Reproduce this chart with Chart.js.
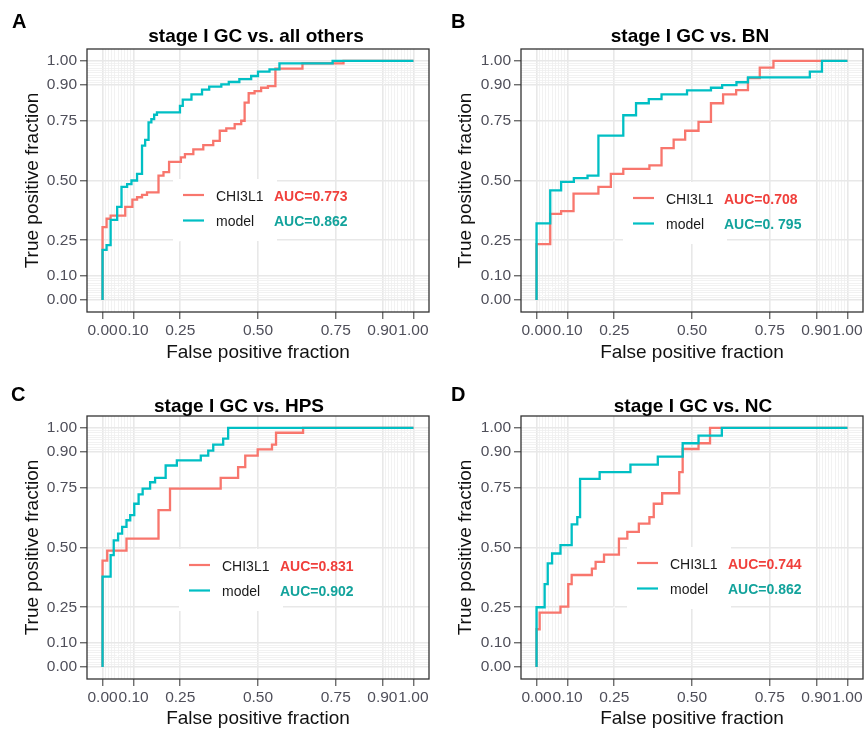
<!DOCTYPE html>
<html lang="en">
<head>
<meta charset="UTF-8">
<title>ROC curves - stage I GC</title>
<script src="https://cdn.jsdelivr.net/npm/chart.js@4.4.1/dist/chart.umd.min.js"></script>
<style>
  body { margin: 0; background: #fff; font-family: "Liberation Sans", Arial, sans-serif; }
  .wrap { position: relative; width: 865px; height: 730px; }
  canvas { position: absolute; }
  .letter { position: absolute; font-weight: bold; font-size: 20px; line-height: 24px; color: #000; }
  .title { position: absolute; width: 400px; text-align: center; font-weight: bold; font-size: 19px; line-height: 22px; color: #000; }
</style>
</head>
<body>
<div class="wrap" id="wrap"></div>
<script>
// axis breaks
const majorBreaks = [0, 0.1, 0.25, 0.5, 0.75, 0.9, 1];
const tickLabels = ['0.00', '0.10', '0.25', '0.50', '0.75', '0.90', '1.00'];
const minorBreaks = [0.01, 0.02, 0.03, 0.04, 0.05, 0.06, 0.07, 0.08, 0.09,
                     0.91, 0.92, 0.93, 0.94, 0.95, 0.96, 0.97, 0.98, 0.99];

const groups = ['CHI3L1', 'model'];
const letters = ['A', 'B', 'C', 'D'];
const titles = ['stage I GC vs. all others', 'stage I GC vs. BN', 'stage I GC vs. HPS', 'stage I GC vs. NC'];
const aucLabels = [
  ['AUC=0.773', 'AUC=0.862'],
  ['AUC=0.708', 'AUC=0. 795'],
  ['AUC=0.831', 'AUC=0.902'],
  ['AUC=0.744', 'AUC=0.862']
];

// ROC points [fpr, tpr]
const rocA_chi = [[0,0],[0,0.305],[0.013,0.34],[0.026,0.353],[0.073,0.39],[0.096,0.42],[0.111,0.43],[0.127,0.44],[0.143,0.45],[0.18,0.52],[0.196,0.535],[0.214,0.578],[0.252,0.597],[0.265,0.61],[0.292,0.63],[0.324,0.648],[0.356,0.666],[0.377,0.708],[0.398,0.718],[0.425,0.736],[0.446,0.75],[0.457,0.826],[0.47,0.865],[0.489,0.874],[0.51,0.888],[0.532,0.895],[0.556,0.968],[0.643,0.99],[0.775,1],[1,1]];
const rocA_model = [[0,0],[0,0.21],[0.013,0.23],[0.026,0.335],[0.047,0.39],[0.061,0.473],[0.079,0.485],[0.093,0.5],[0.111,0.528],[0.127,0.646],[0.137,0.67],[0.148,0.743],[0.157,0.757],[0.166,0.775],[0.175,0.785],[0.249,0.812],[0.258,0.838],[0.286,0.86],[0.32,0.88],[0.343,0.893],[0.382,0.902],[0.406,0.912],[0.44,0.924],[0.478,0.937],[0.5,0.955],[0.537,0.965],[0.569,0.99],[0.74,1],[1,1]];

const rocB_chi = [[0,0],[0,0.234],[0.044,0.36],[0.079,0.372],[0.119,0.445],[0.199,0.473],[0.239,0.528],[0.279,0.549],[0.363,0.563],[0.402,0.635],[0.441,0.671],[0.478,0.708],[0.521,0.745],[0.561,0.823],[0.6,0.86],[0.642,0.878],[0.68,0.928],[0.718,0.972],[0.762,1],[1,1]];
const rocB_model = [[0,0],[0,0.321],[0.044,0.459],[0.079,0.494],[0.12,0.51],[0.164,0.52],[0.199,0.688],[0.279,0.773],[0.32,0.823],[0.361,0.84],[0.402,0.86],[0.484,0.877],[0.561,0.888],[0.597,0.899],[0.643,0.911],[0.68,0.931],[0.879,0.955],[0.918,1],[1,1]];

const rocC_chi = [[0,0],[0,0.445],[0.015,0.487],[0.077,0.537],[0.18,0.656],[0.217,0.746],[0.38,0.791],[0.436,0.836],[0.459,0.884],[0.499,0.91],[0.545,0.93],[0.558,0.98],[0.645,1],[1,1]];
const rocC_model = [[0,0],[0,0.378],[0.026,0.468],[0.036,0.53],[0.05,0.558],[0.063,0.586],[0.077,0.614],[0.089,0.635],[0.102,0.683],[0.116,0.722],[0.129,0.746],[0.153,0.773],[0.169,0.791],[0.203,0.843],[0.239,0.864],[0.316,0.884],[0.34,0.905],[0.356,0.93],[0.388,0.955],[0.404,1],[1,1]];

const rocD_chi = [[0,0],[0,0.158],[0.01,0.228],[0.077,0.253],[0.102,0.347],[0.113,0.385],[0.178,0.412],[0.19,0.44],[0.217,0.47],[0.265,0.537],[0.292,0.565],[0.329,0.6],[0.363,0.627],[0.377,0.683],[0.404,0.727],[0.459,0.815],[0.47,0.912],[0.521,0.936],[0.558,1],[1,1]];
const rocD_model = [[0,0],[0,0.25],[0.026,0.347],[0.036,0.434],[0.05,0.475],[0.077,0.51],[0.113,0.597],[0.131,0.627],[0.14,0.787],[0.203,0.815],[0.302,0.847],[0.39,0.88],[0.47,0.936],[0.521,0.968],[0.596,1],[1,1]];

const curves = [[rocA_chi, rocA_model], [rocB_chi, rocB_model], [rocC_chi, rocC_model], [rocD_chi, rocD_model]];

// layout of the four panels (page pixels)
const panels = [
  { left: 0,   top: 0,   padTop: 49, padRight: 3, yW: 87, xH: 53, xPadB: 1, titleX: 256, titleTop: 25,  letterX: 12,  letterY: 9,   leg: { x: 96,  y: 148 } },
  { left: 433, top: 0,   padTop: 49, padRight: 2, yW: 88, xH: 53, xPadB: 1, titleX: 690, titleTop: 25,  letterX: 451, letterY: 9,   leg: { x: 112, y: 151 } },
  { left: 0,   top: 365, padTop: 51, padRight: 3, yW: 87, xH: 51, xPadB: 0, titleX: 239, titleTop: 395, letterX: 11,  letterY: 382, leg: { x: 102, y: 151 } },
  { left: 433, top: 365, padTop: 51, padRight: 2, yW: 88, xH: 51, xPadB: 0, titleX: 693, titleTop: 395, letterX: 451, letterY: 382, leg: { x: 116, y: 149 } }
];

const lineColors = ['#F8766D', '#00BFC4'];
const aucColors = ['#F0403C', '#13A39C'];
const FONT = '"Liberation Sans", Arial, sans-serif';
const allBreaks = majorBreaks.concat(minorBreaks).sort((a, b) => a - b);
const isMajor = v => majorBreaks.indexOf(v) >= 0;

const rocFrame = {
  id: 'rocFrame',
  beforeDatasetsDraw(chart, args, o) {
    const ca = chart.chartArea, ctx = chart.ctx;
    ctx.save();
    ctx.fillStyle = '#fff';
    ctx.fillRect(ca.left + o.x - 10, ca.top + o.y - 18, 104, 62);
    ctx.restore();
  },
  afterDatasetsDraw(chart, args, o) {
    const ca = chart.chartArea, ctx = chart.ctx;
    ctx.save();
    let row = 0;
    chart.data.datasets.forEach(ds => {
      if (!ds.label) return;
      const y = ca.top + o.y + row * 25.5;
      const x0 = ca.left + o.x;
      ctx.strokeStyle = ds.borderColor;
      ctx.lineWidth = 2.2;
      ctx.beginPath();
      ctx.moveTo(x0, y - 2);
      ctx.lineTo(x0 + 21, y - 2);
      ctx.stroke();
      ctx.textBaseline = 'middle';
      ctx.textAlign = 'left';
      ctx.fillStyle = '#1a1a1a';
      ctx.font = '14px ' + FONT;
      ctx.fillText(ds.label, x0 + 33, y);
      ctx.fillStyle = aucColors[row];
      ctx.font = 'bold 14px ' + FONT;
      ctx.fillText(o.auc[row], x0 + 91, y);
      row++;
    });
    ctx.restore();
  },
  afterDraw(chart) {
    const ca = chart.chartArea, ctx = chart.ctx;
    ctx.save();
    ctx.strokeStyle = '#333';
    ctx.lineWidth = 1.3;
    ctx.strokeRect(ca.left, ca.top, ca.right - ca.left, ca.bottom - ca.top);
    ctx.restore();
  }
};

function axis(P, isX) {
  return {
    type: 'linear',
    min: -0.05,
    max: 1.05,
    afterFit(s) { if (isX) s.height = P.xH; else s.width = P.yW; },
    afterBuildTicks(s) { s.ticks = allBreaks.map(v => ({ value: v })); },
    ticks: {
      autoSkip: false,
      maxRotation: 0,
      minRotation: 0,
      padding: isX ? 2 : 3,
      color: '#4f4f5a',
      font: { size: 15.5, family: FONT },
      callback(v) { const k = majorBreaks.indexOf(v); return k < 0 ? '' : tickLabels[k]; }
    },
    grid: {
      color: c => isMajor(c.tick.value) ? '#e8e8e8' : '#efefef',
      lineWidth: c => isMajor(c.tick.value) ? 1.6 : 0.8,
      tickColor: c => isMajor(c.tick.value) ? '#333' : 'rgba(0,0,0,0)',
      tickWidth: 1,
      tickLength: 7,
      drawTicks: true
    },
    border: { display: false },
    title: {
      display: true,
      text: isX ? 'False positive fraction' : 'True positive fraction',
      color: '#111',
      font: { size: 19, family: FONT },
      padding: isX ? { top: 0, bottom: P.xPadB } : { top: 21, bottom: 0 }
    }
  };
}

const wrap = document.getElementById('wrap');
panels.forEach((P, i) => {
  const cv = document.createElement('canvas');
  cv.width = 432; cv.height = 365;
  cv.style.left = P.left + 'px'; cv.style.top = P.top + 'px';
  wrap.appendChild(cv);

  const lt = document.createElement('div');
  lt.className = 'letter';
  lt.textContent = letters[i];
  lt.style.left = P.letterX + 'px'; lt.style.top = P.letterY + 'px';
  wrap.appendChild(lt);

  const tt = document.createElement('div');
  tt.className = 'title';
  tt.textContent = titles[i];
  tt.style.left = (P.titleX - 200) + 'px'; tt.style.top = P.titleTop + 'px';
  wrap.appendChild(tt);

  const datasets = curves[i].map((pts, g) => ({
    label: groups[g],
    data: pts.map(p => ({ x: p[0], y: p[1] })),
    borderColor: lineColors[g],
    borderWidth: 2.3,
    pointRadius: 0,
    stepped: true,
    fill: false,
    order: 2 - g
  }));
  datasets.push({
    data: [{ x: 0, y: 0 }, { x: 1, y: 1 }],
    borderColor: '#ffffff',
    borderWidth: 1,
    borderDash: [3, 3],
    pointRadius: 0,
    order: 3
  });

  new Chart(cv, {
    type: 'line',
    data: { datasets },
    options: {
      responsive: false,
      animation: false,
      layout: { padding: { left: 0, right: P.padRight, top: P.padTop, bottom: 0 } },
      scales: { x: axis(P, true), y: axis(P, false) },
      plugins: {
        legend: { display: false },
        tooltip: { enabled: false },
        rocFrame: { x: P.leg.x, y: P.leg.y, auc: aucLabels[i] }
      }
    },
    plugins: [rocFrame]
  });
});
</script>
</body>
</html>
